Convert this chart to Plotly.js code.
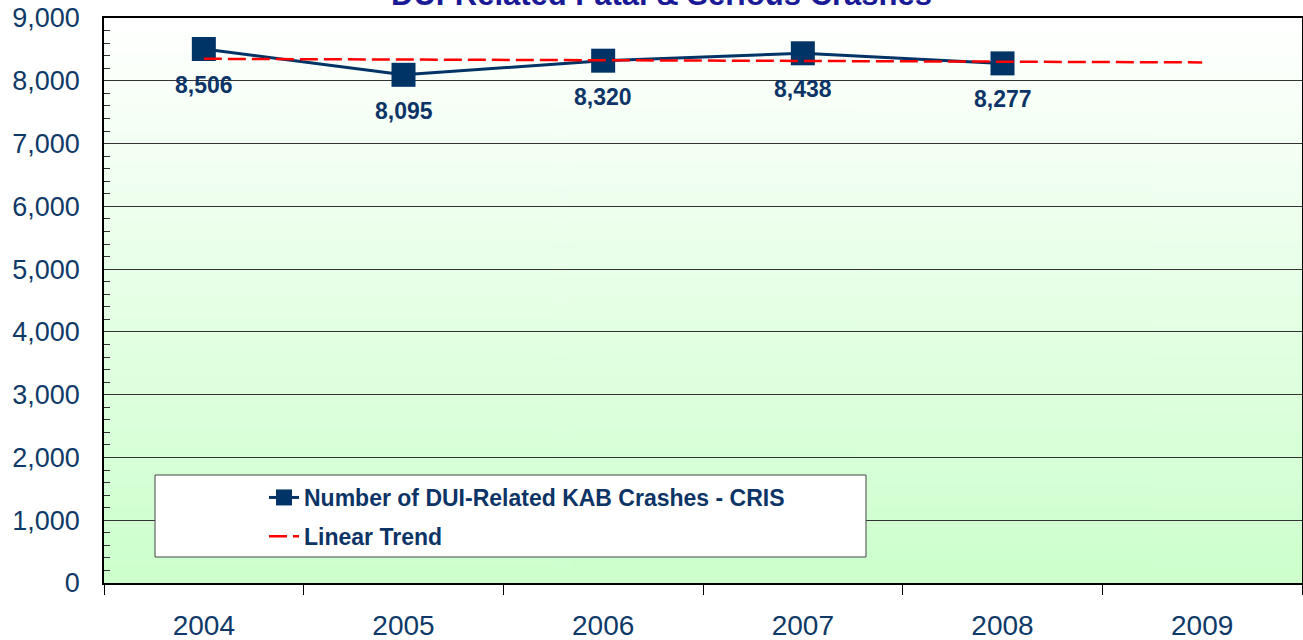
<!DOCTYPE html>
<html><head><meta charset="utf-8">
<script src="https://cdn.plot.ly/plotly-3.0.1.min.js"></script>
<style>html,body{margin:0;padding:0;background:#fff}#chart{width:1303px;height:640px}</style>
</head><body><div id="chart"></div>
<script>
const years = ['2004', '2005', '2006', '2007', '2008', '2009'];
const crashYears = ['2004', '2005', '2006', '2007', '2008'];
const crashes = [8506, 8095, 8320, 8438, 8277];
const trendYears = ['2004', '2009'];
const trendValues = [8350, 8293];
const seriesName = 'Number of DUI-Related KAB Crashes - CRIS';
const trendName = 'Linear Trend';
const titleText = 'DUI-Related Fatal &amp; Serious Crashes';

const FONT = 'Liberation Sans, Arial, sans-serif';
const NAVY = '#0f3a68';
const LINE = '#003366';

// background gradient (white -> light green)
const cv = document.createElement('canvas');
cv.width = 4; cv.height = 256;
const ctx = cv.getContext('2d');
const g = ctx.createLinearGradient(0, 0, 0, 256);
g.addColorStop(0, '#ffffff');
g.addColorStop(1, '#ccffcc');
ctx.fillStyle = g; ctx.fillRect(0, 0, 4, 256);
const bgImg = cv.toDataURL();

const traces = [
  {
    x: crashYears, y: crashes, name: seriesName, type: 'scatter', mode: 'lines+markers',
    line: {color: LINE, width: 3},
    marker: {symbol: 'square', size: 24, color: LINE},
    legendgroup: 'a', hoverinfo: 'x+y'
  },
  {
    x: trendYears, y: trendValues, name: trendName, type: 'scatter', mode: 'lines',
    line: {color: '#ff0000', width: 2.5, dash: '18px,6px'},
    legendgroup: 'b', hoverinfo: 'skip'
  }
];

const annotations = crashYears.map((yr, i) => ({
  x: years.indexOf(yr), y: crashes[i], xref: 'x', yref: 'y',
  text: crashes[i].toLocaleString('en-US'), showarrow: false, yshift: -36,
  xanchor: 'center', yanchor: 'middle',
  font: {family: FONT, size: 23, weight: 'bold', color: '#0d3466'}
}));

const layout = {
  width: 1303, height: 640,
  margin: {l: 104, r: 1, t: 18, b: 57, pad: 0},
  paper_bgcolor: '#ffffff', plot_bgcolor: 'rgba(0,0,0,0)',
  font: {family: FONT, color: NAVY},
  title: {
    text: titleText, xref: 'container', x: 0.5077, xanchor: 'center',
    yref: 'paper', y: 1, yanchor: 'bottom', pad: {b: 13},
    font: {family: FONT, size: 31, weight: 'bold', color: '#1a1a96'}
  },
  images: [{source: bgImg, xref: 'paper', yref: 'paper', x: 0, y: 1, sizex: 1, sizey: 1,
    sizing: 'stretch', layer: 'below', xanchor: 'left', yanchor: 'top'}],
  xaxis: {
    type: 'category', categoryorder: 'array', categoryarray: years, range: [-0.5, 5.5],
    tickson: 'boundaries', ticks: 'outside', ticklen: 10, tickwidth: 1, tickcolor: '#000',
    showline: true, linecolor: '#000', linewidth: 1.5, mirror: true, showgrid: false,
    tickfont: {family: FONT, size: 28, color: NAVY}, ticklabelstandoff: 17, fixedrange: true
  },
  yaxis: {
    range: [0, 9000], tickmode: 'linear', tick0: 0, dtick: 1000, tickformat: ',',
    showgrid: true, gridcolor: '#333', gridwidth: 1, zeroline: false,
    showline: true, linecolor: '#000', linewidth: 1.5, mirror: true, ticks: '',
    tickfont: {family: FONT, size: 27, color: NAVY}, ticklabelstandoff: 17,
    minor: {dtick: 200, tick0: 0, ticks: 'inside', ticklen: 6, tickcolor: '#333', showgrid: false},
    fixedrange: true
  },
  showlegend: true,
  legend: {
    x: (264 - 104) / 1198, xanchor: 'left', y: (583 - 476) / 565, yanchor: 'top',
    bgcolor: 'rgba(0,0,0,0)', borderwidth: 0, tracegroupgap: 6,
    font: {family: FONT, size: 23, weight: 'bold', color: '#0d3466'}
  },
  shapes: [{
    type: 'rect', xref: 'paper', yref: 'paper',
    x0: (155 - 104) / 1198, x1: (866 - 104) / 1198, y0: (583 - 557) / 565, y1: (583 - 475) / 565,
    fillcolor: '#ffffff', line: {color: '#444', width: 1}, layer: 'above'
  }],
  annotations: annotations
};

Plotly.newPlot('chart', traces, layout, {displayModeBar: false, responsive: false});
</script>
</body></html>
